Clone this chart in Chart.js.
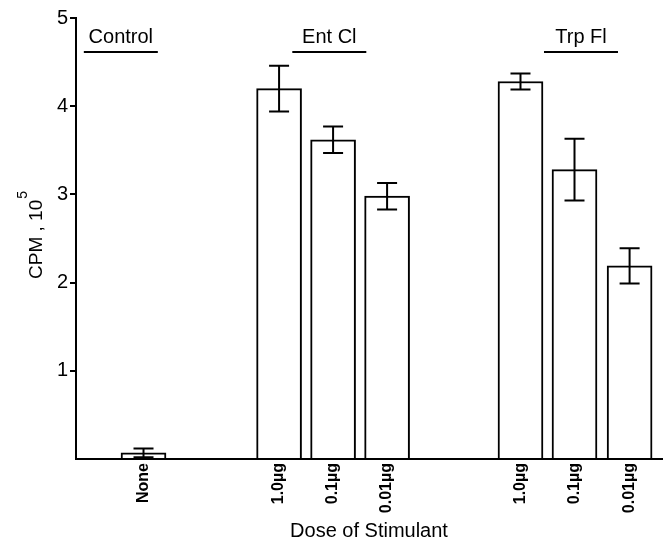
<!DOCTYPE html>
<html>
<head>
<meta charset="utf-8">
<script src="https://cdn.jsdelivr.net/npm/chart.js@4.4.1/dist/chart.umd.min.js"></script>
<style>
  html, body { margin: 0; padding: 0; background: #fff; }
</style>
</head>
<body>
<canvas id="myChart" width="669" height="543"></canvas>
<script>
// values (CPM in units of 10^5)
const doseLabels = ['None', '1.0µg', '0.1µg', '0.01µg', '1.0µg', '0.1µg', '0.01µg'];
const barPos = [1.25, 3.76, 4.76, 5.76, 8.23, 9.23, 10.25];
const cpm = [0.07, 4.20, 3.62, 2.98, 4.28, 3.28, 2.19];
const cpmErr = [0.05, 0.26, 0.15, 0.15, 0.09, 0.35, 0.20];
const groupNames = ['Control', 'Ent Cl', 'Trp Fl'];
const groupPos = [0.83, 4.69, 9.35];
const yTicks = [0, 1, 2, 3, 4, 5];

const FONT = "'Liberation Sans', Arial, sans-serif";
Chart.defaults.font.family = FONT;
Chart.defaults.color = '#000';

const errorBars = {
  id: 'errorBars',
  afterDatasetsDraw(chart) {
    const { ctx, scales: { x, y } } = chart;
    ctx.save();
    ctx.strokeStyle = '#000';
    ctx.lineWidth = 2;
    cpm.forEach((v, i) => {
      const px = x.getPixelForValue(barPos[i]);
      const top = y.getPixelForValue(v + cpmErr[i]);
      const bot = y.getPixelForValue(Math.max(0, v - cpmErr[i]));
      ctx.beginPath();
      ctx.moveTo(px, top);
      ctx.lineTo(px, bot);
      ctx.moveTo(px - 10, top);
      ctx.lineTo(px + 10, top);
      ctx.moveTo(px - 10, bot);
      ctx.lineTo(px + 10, bot);
      ctx.stroke();
    });
    ctx.restore();
  }
};

// group headings with underline, plus y title with a real superscript
const labels = {
  id: 'labels',
  afterDraw(chart) {
    const { ctx, chartArea, scales: { x } } = chart;
    ctx.save();
    ctx.font = '20px ' + FONT;
    ctx.fillStyle = '#000';
    ctx.strokeStyle = '#000';
    ctx.lineWidth = 2;
    ctx.textAlign = 'center';
    ctx.textBaseline = 'alphabetic';
    groupNames.forEach((name, i) => {
      const px = x.getPixelForValue(groupPos[i]);
      ctx.fillText(name, px, 43);
      ctx.beginPath();
      ctx.moveTo(px - 37, 52);
      ctx.lineTo(px + 37, 52);
      ctx.stroke();
    });

    const main = 'CPM , 10';
    const sup = '5';
    ctx.font = '19px ' + FONT;
    const wMain = ctx.measureText(main).width;
    ctx.font = '14px ' + FONT;
    const wSup = ctx.measureText(sup).width;
    const cy = (chartArea.top + chartArea.bottom) / 2 - 3;
    ctx.translate(42, cy + (wMain + wSup) / 2);
    ctx.rotate(-Math.PI / 2);
    ctx.textAlign = 'left';
    ctx.font = '19px ' + FONT;
    ctx.fillText(main, 0, 0);
    ctx.font = '14px ' + FONT;
    ctx.fillText(sup, wMain + 1, -15);
    ctx.restore();
  }
};

const ctx = document.getElementById('myChart').getContext('2d');
new Chart(ctx, {
  type: 'bar',
  data: {
    datasets: [{
      data: barPos.map((p, i) => ({ x: p, y: cpm[i] })),
      backgroundColor: '#fff',
      borderColor: '#000',
      borderWidth: 2,
      borderSkipped: 'bottom',
      barThickness: 45,
    }],
  },
  options: {
    responsive: false,
    animation: false,
    layout: { padding: { top: 18, right: 7, left: 0, bottom: 0 } },
    plugins: { legend: { display: false }, tooltip: { enabled: false } },
    scales: {
      x: {
        type: 'linear',
        offset: false,
        min: 0,
        max: 10.85,
        afterBuildTicks: (axis) => { axis.ticks = barPos.map((v) => ({ value: v })); },
        afterFit: (axis) => { axis.height = 84; },
        grid: { display: false, drawTicks: false },
        border: { display: true, color: '#000', width: 2 },
        ticks: {
          autoSkip: false,
          minRotation: 90,
          maxRotation: 90,
          padding: 4,
          font: { size: 16, weight: 'bold' },
          callback: (val, i) => doseLabels[i],
        },
        title: {
          display: true,
          text: 'Dose of Stimulant',
          font: { size: 20 },
          padding: { top: 0, bottom: 0 },
        },
      },
      y: {
        min: 0,
        max: 5,
        afterBuildTicks: (axis) => { axis.ticks = yTicks.map((v) => ({ value: v })); },
        afterFit: (axis) => { axis.width = 76; },
        grid: {
          drawOnChartArea: false,
          drawTicks: true,
          tickLength: 6,
          lineWidth: 2,
          color: (c) => (c.tick && c.tick.value === 0 ? 'rgba(0,0,0,0)' : '#000'),
        },
        border: { display: true, color: '#000', width: 2 },
        ticks: {
          padding: 2,
          font: { size: 20 },
          callback: (val) => (val === 0 ? '' : val),
        },
      },
    },
  },
  plugins: [errorBars, labels],
});
</script>
</body>
</html>
